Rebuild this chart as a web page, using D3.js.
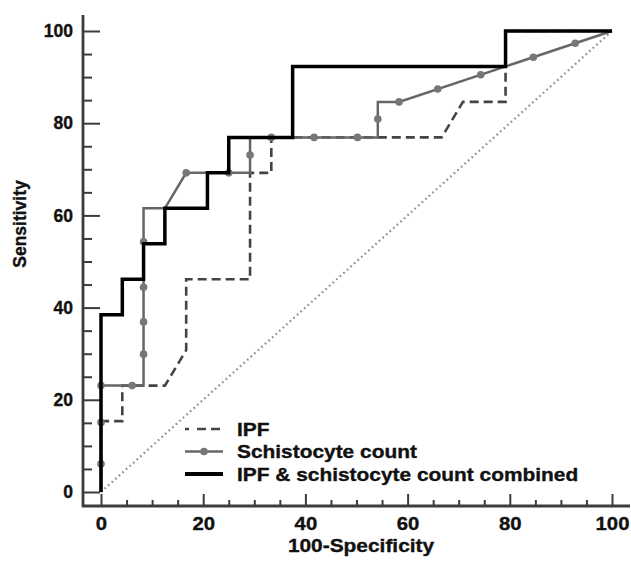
<!DOCTYPE html>
<html>
<head>
<meta charset="utf-8">
<script src="https://cdn.jsdelivr.net/npm/d3@7"></script>
<style>
  body { margin: 0; background: #fff; }
  text { font-family: "Liberation Sans", Arial, sans-serif; font-weight: bold; fill: #111; stroke: #111; stroke-width: 0.35px; }
</style>
</head>
<body>
<div id="chart"></div>
<script>
// ROC curves: [100-specificity, sensitivity]
var ipfPoints = [[0,0],[0,15.38],[4.17,15.38],[4.17,23.08],[12.5,23.08],[16.67,30.77],[16.67,46.15],
  [29.17,46.15],[29.17,69.23],[33.33,69.23],[33.33,76.92],[66.67,76.92],[70.83,84.62],[79.17,84.62],
  [79.17,92.31],[79.17,100],[100,100]];

var schistoPoints = [[0,0],[0,23.08],[8.33,23.08],[8.33,61.54],[12.5,61.54],[16.67,69.23],[29.17,69.23],
  [29.17,76.92],[54.17,76.92],[54.17,84.62],[58.33,84.62],[100,100]];

var schistoDots = [[0,6.1],[0,15.1],[0,23.08],[6.1,23.08],[8.33,29.9],[8.33,36.9],[8.33,44.4],[8.33,54.3],
  [16.67,69.23],[25,69.23],[29.17,73.1],[33.33,76.92],[41.7,76.92],[50.2,76.92],[54.17,80.9],
  [58.33,84.62],[65.9,87.41],[74.3,90.51],[84.6,94.31],[92.8,97.34]];

var combinedPoints = [[0,0],[0,38.46],[4.17,38.46],[4.17,46.15],[8.33,46.15],[8.33,53.85],[12.5,53.85],
  [12.5,61.54],[20.83,61.54],[20.83,69.23],[25,69.23],[25,76.92],[37.5,76.92],[37.5,92.31],
  [79.17,92.31],[79.17,100],[100,100]];

var refLine = [[0,0],[100,100]];

var majorTicks = [0, 20, 40, 60, 80, 100];
var minorTicks = d3.range(0, 101, 5).filter(function(v) { return v % 20 !== 0; });
var legendLabels = ["IPF", "Schistocyte count", "IPF & schistocyte count combined"];

var width = 631, height = 561;
var stretch = 1.13; // the original text is a bit wider than Arial

var svg = d3.select("#chart").append("svg")
  .attr("width", width)
  .attr("height", height);

var x = d3.scaleLinear().domain([0, 100]).range([101, 612]);
var y = d3.scaleLinear().domain([0, 100]).range([492, 31]);

var axisColor = "#3c3c3c";
var xAxisY = 506, yAxisX = 83;

// minor ticks (inside)
svg.append("g")
  .attr("transform", "translate(0," + xAxisY + ")")
  .call(d3.axisBottom(x).tickValues(minorTicks).tickSize(-6).tickFormat(""))
  .call(function(g) { g.select(".domain").remove(); });
svg.append("g")
  .attr("transform", "translate(" + yAxisX + ",0)")
  .call(d3.axisLeft(y).tickValues(minorTicks).tickSize(-9).tickFormat(""))
  .call(function(g) { g.select(".domain").remove(); });

// major ticks
var xAxis = svg.append("g")
  .attr("transform", "translate(0," + xAxisY + ")")
  .call(d3.axisBottom(x).tickValues(majorTicks).tickSize(-12).tickPadding(11))
  .call(function(g) { g.select(".domain").remove(); });
var yAxis = svg.append("g")
  .attr("transform", "translate(" + yAxisX + ",0)")
  .call(d3.axisLeft(y).tickValues(majorTicks).tickSize(-17).tickPadding(10))
  .call(function(g) { g.select(".domain").remove(); });

svg.selectAll(".tick line").attr("stroke", axisColor).attr("stroke-width", 2);
xAxis.selectAll("text").attr("font-size", 18).attr("font-family", null).attr("fill", null)
  .attr("transform", "scale(" + stretch + ",1)");
yAxis.selectAll("text").attr("font-size", 17.5).attr("font-family", null).attr("fill", null);

// axis lines
svg.append("line")
  .attr("x1", yAxisX).attr("x2", yAxisX).attr("y1", 15).attr("y2", xAxisY + 1)
  .attr("stroke", axisColor).attr("stroke-width", 2.8);
svg.append("line")
  .attr("x1", yAxisX - 1).attr("x2", 630).attr("y1", xAxisY).attr("y2", xAxisY)
  .attr("stroke", axisColor).attr("stroke-width", 2.8);

// axis titles
svg.append("text")
  .attr("transform", "translate(361,552) scale(" + stretch + ",1)")
  .attr("text-anchor", "middle")
  .attr("font-size", 18.5)
  .text("100-Specificity");
svg.append("text")
  .attr("transform", "translate(26,224) rotate(-90)")
  .attr("text-anchor", "middle")
  .attr("font-size", 17.5)
  .text("Sensitivity");

var line = d3.line().x(function(d) { return x(d[0]); }).y(function(d) { return y(d[1]); });

// reference diagonal
svg.append("path")
  .attr("d", line(refLine))
  .attr("fill", "none")
  .attr("stroke", "#8a8a8a")
  .attr("stroke-width", 2.2)
  .attr("stroke-dasharray", "1.6,3.2");

// IPF
svg.append("path")
  .attr("d", line(ipfPoints))
  .attr("fill", "none")
  .attr("stroke", "#444")
  .attr("stroke-width", 2.6)
  .attr("stroke-dasharray", "9,5");

// schistocyte count
svg.append("path")
  .attr("d", line(schistoPoints))
  .attr("fill", "none")
  .attr("stroke", "#666")
  .attr("stroke-width", 2.5);
svg.selectAll("circle.dot")
  .data(schistoDots)
  .enter()
  .append("circle")
  .attr("class", "dot")
  .attr("cx", function(d) { return x(d[0]); })
  .attr("cy", function(d) { return y(d[1]); })
  .attr("r", 3.8)
  .attr("fill", "#777");

// combined
svg.append("path")
  .attr("d", line(combinedPoints))
  .attr("fill", "none")
  .attr("stroke", "#000")
  .attr("stroke-width", 3.5);

// legend
var legend = svg.append("g").attr("transform", "translate(185,429)");
var rowGap = 22.5;
var rows = legend.selectAll("g.row")
  .data(legendLabels)
  .enter()
  .append("g")
  .attr("class", "row")
  .attr("transform", function(d, i) { return "translate(0," + (i * rowGap) + ")"; });

rows.append("line")
  .attr("x1", 0).attr("x2", 38).attr("y1", 0).attr("y2", 0)
  .attr("stroke", function(d, i) { return ["#444", "#666", "#000"][i]; })
  .attr("stroke-width", function(d, i) { return [2.6, 2.5, 3.8][i]; })
  .attr("stroke-dasharray", function(d, i) { return i === 0 ? "4,8,9,5,9,5" : null; });
legend.append("circle")
  .attr("cx", 19).attr("cy", rowGap).attr("r", 3.8).attr("fill", "#777");

rows.append("text")
  .attr("transform", "translate(52,6.5) scale(" + stretch + ",1)")
  .attr("font-size", 18.5)
  .text(function(d) { return d; });
</script>
</body>
</html>
